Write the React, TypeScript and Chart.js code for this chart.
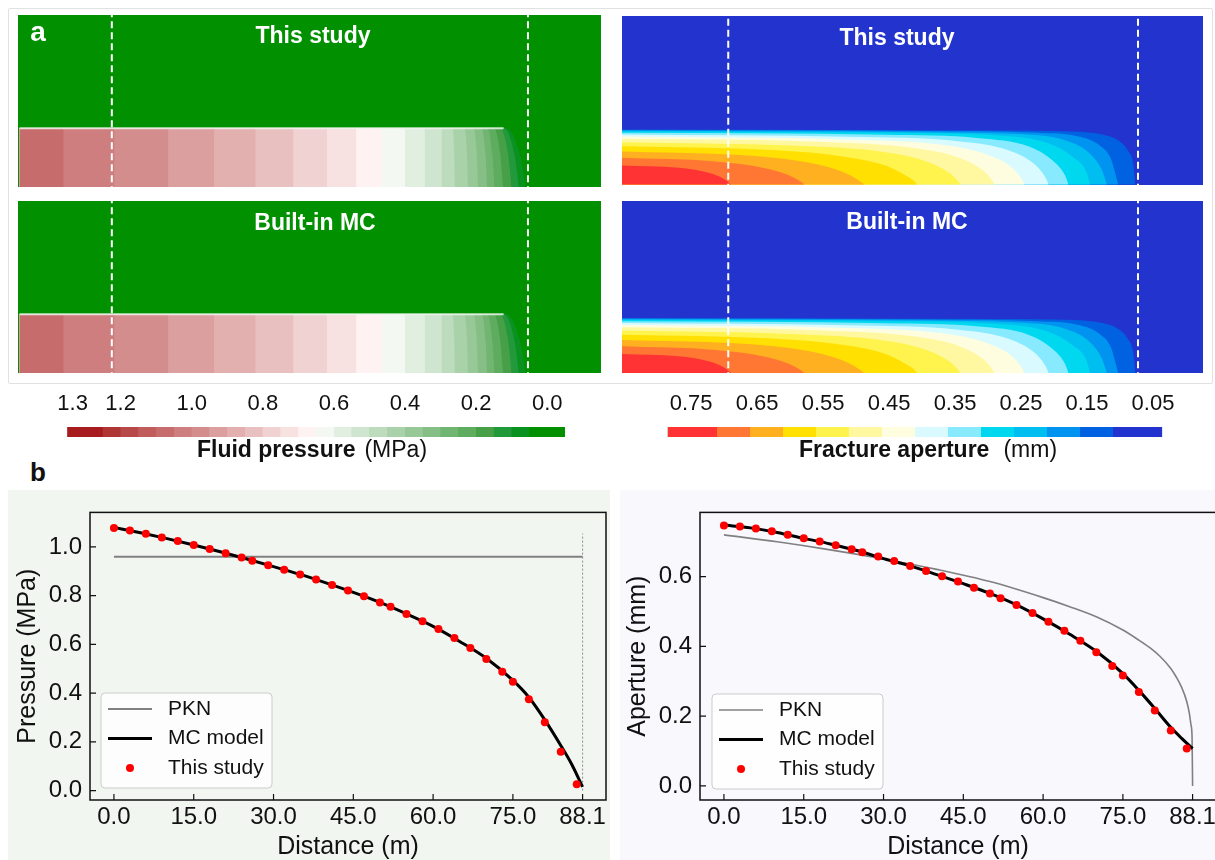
import React, { useEffect, useRef } from "react";
import { Chart, registerables } from "chart.js";

Chart.register(...registerables);

const FONT = "'Liberation Sans', Arial, Helvetica, sans-serif";
Chart.defaults.font.family = FONT;
Chart.defaults.color = "#111111";

/* ---------------- panel (a): colour scales ---------------- */
const pressureColors = [
  "#a61c1f", "#b03535", "#b84949", "#c05c5c", "#c76c6c", "#ce7e7e", "#d48d8d",
  "#dc9f9f", "#e3b0b0", "#e9c0c0", "#f1d2d2", "#f7e1e1", "#fff2f2", "#f3f8f3",
  "#e1efe1", "#cfe5cf", "#bddbbd", "#aad2aa", "#98c898", "#86bf86", "#72b572",
  "#5eac5e", "#47a047", "#22993a", "#0a9220", "#009000",
];
const pressureEdges = [
  1.35, 1.25, 1.2, 1.15, 1.1, 1.05, 1.0, 0.95, 0.9, 0.85, 0.8, 0.75, 0.7, 0.65,
  0.6, 0.55, 0.5, 0.45, 0.4, 0.35, 0.3, 0.25, 0.2, 0.15, 0.1, 0.05, -0.05,
];
const pressureTickValues = [1.335, 1.2, 1.0, 0.8, 0.6, 0.4, 0.2, 0.0];

const apertureColors = [
  "#ff3333", "#ff7733", "#ffb020", "#ffe000", "#fff34d", "#fff8a0", "#fffde0",
  "#d9fbff", "#88eaff", "#00d8f0", "#00bff0", "#0094f0", "#0062e0", "#2234cd",
];
const apertureEdges = [0.775, 0.7, 0.65, 0.6, 0.55, 0.5, 0.45, 0.4, 0.35, 0.3, 0.25, 0.2, 0.15, 0.1, 0.025];
const apertureTickValues = [0.75, 0.65, 0.55, 0.45, 0.35, 0.25, 0.15, 0.05];

/* ---------------- panel (a): fields (distance / height in m) ---------------- */
const pressureStripeEnds = [7.8, 16.8, 26.3, 34.4, 41.7, 48.4, 54.3, 59.5, 64.0, 68.1, 71.6, 74.6, 76.9, 79.2, 81.0, 82.6, 83.9, 85.4, 86.9, 88.2, 89.4];
const pressureStripeSlant = [0, 0, 0, 0, 0, 0, 0, 0, 0, 0, 0, 0, 0.4, 0.6, 0.8, 1.0, 1.3, 1.6, 2.0, 2.6, 3.4];
const pressureStripeFirstLevel = 4;
const pressureBandHeight = 10.4;
const pressureDashes = [16.3, 89.8];
const apertureDashes = [18.8, 91.3];

// contour lines of aperture, innermost (0.70 mm) to outermost (0.10 mm): [distance, height]
const apertureContours = [
  [[0, 3.36], [10.0, 2.95], [15.3, 2.06], [18.0, 1.0], [19.3, 0]],
  [[0, 4.72], [16.6, 4.07], [25.3, 2.89], [29.3, 1.71], [31.6, 0.53], [32.3, 0]],
  [[0, 5.84], [20.0, 5.25], [31.9, 4.07], [37.9, 2.65], [41.3, 1.12], [42.9, 0]],
  [[0, 6.78], [26.6, 6.08], [39.9, 4.84], [46.6, 3.36], [50.2, 1.59], [51.9, 0.41], [52.2, 0]],
  [[0, 7.49], [29.9, 6.9], [46.6, 5.72], [53.9, 4.07], [57.9, 2.06], [59.5, 0.53], [59.9, 0]],
  [[0, 8.08], [33.3, 7.61], [51.9, 6.43], [59.9, 4.66], [63.9, 2.48], [65.5, 0.71], [65.9, 0]],
  [[0, 8.5], [39.9, 7.96], [56.6, 7.02], [64.5, 5.31], [68.9, 3.07], [70.7, 1.0], [71.2, 0]],
  [[0, 8.85], [39.9, 8.44], [59.9, 7.61], [68.5, 6.02], [72.9, 3.66], [74.9, 1.3], [75.5, 0]],
  [[0, 9.14], [46.6, 8.79], [63.2, 8.2], [71.9, 6.78], [76.2, 4.25], [78.4, 1.59], [79.0, 0]],
  [[0, 9.38], [46.6, 9.14], [66.5, 8.67], [75.2, 7.37], [79.8, 4.84], [82.2, 2.18], [82.8, 0]],
  [[0, 9.5], [53.2, 9.26], [69.9, 8.91], [78.5, 7.79], [82.5, 5.72], [84.8, 2.77], [85.8, 0]],
  [[0, 9.62], [53.2, 9.44], [73.2, 9.14], [81.2, 8.38], [84.5, 6.9], [86.5, 4.54], [87.8, 0]],
  [[0, 9.73], [39.9, 9.62], [66.5, 9.56], [79.8, 9.38], [85.2, 8.79], [87.8, 7.79], [89.5, 6.02], [90.5, 3.36], [90.8, 0]],
];

/* ---------------- panel (b) ---------------- */
const distanceTicks = [0, 15, 30, 45, 60, 75, 88.1];
const pressureTicks = [0, 0.2, 0.4, 0.6, 0.8, 1.0];
const apertureTicks = [0, 0.2, 0.4, 0.6];

const studyDistance = [0, 3, 6, 9, 12, 15, 18, 21, 24, 26, 29, 32, 35, 38, 41, 44, 47, 50, 52, 55, 58, 61, 64, 67, 70, 73, 75, 78, 81, 84, 87];
const studyPressure = [1.077, 1.067, 1.054, 1.039, 1.024, 1.008, 0.991, 0.974, 0.956, 0.943, 0.925, 0.906, 0.887, 0.866, 0.844, 0.821, 0.797, 0.772, 0.754, 0.725, 0.695, 0.663, 0.626, 0.585, 0.54, 0.488, 0.447, 0.375, 0.28, 0.159, 0.026];
const studyAperture = [0.747, 0.744, 0.738, 0.73, 0.72, 0.71, 0.701, 0.69, 0.679, 0.67, 0.658, 0.645, 0.631, 0.616, 0.601, 0.586, 0.568, 0.552, 0.538, 0.519, 0.496, 0.471, 0.445, 0.416, 0.383, 0.344, 0.317, 0.269, 0.216, 0.159, 0.107];

const modelDistance = [0, 5, 10, 15, 20, 25, 30, 35, 40, 45, 50, 55, 60, 65, 70, 75, 78, 81, 84, 86, 88.1];
const modelPressure = [1.08, 1.058, 1.034, 1.008, 0.98, 0.95, 0.919, 0.887, 0.851, 0.813, 0.772, 0.725, 0.674, 0.612, 0.543, 0.452, 0.383, 0.29, 0.185, 0.11, 0.015];
const modelAperture = [0.748, 0.74, 0.727, 0.71, 0.694, 0.675, 0.652, 0.631, 0.606, 0.58, 0.552, 0.519, 0.479, 0.435, 0.386, 0.322, 0.274, 0.222, 0.168, 0.137, 0.107];

const pknPressureDistance = [0, 88.1];
const pknPressure = [0.96, 0.96];
const pknApertureDistance = [0, 10, 20, 30, 40, 50, 60, 65, 70, 75, 78, 80, 82, 84, 85, 86, 87, 87.5, 87.8, 88, 88.1];
const pknAperture = [0.72, 0.7, 0.677, 0.651, 0.621, 0.586, 0.54, 0.514, 0.485, 0.447, 0.418, 0.397, 0.371, 0.337, 0.313, 0.284, 0.242, 0.207, 0.175, 0.14, 0.0];
const tipMarkerDistance = [88.1, 88.1];
const tipMarkerPressure = [0, 1.055];

/* ---------------- helpers ---------------- */
const pts = (xs: number[], ys: number[]) => xs.map((x, i) => ({ x, y: ys[i] }));

const baseOptions: any = {
  animation: false,
  responsive: false,
  events: [],
  plugins: { legend: { display: false }, tooltip: { enabled: false } },
};

const bgPlugin = (outer: string, inner?: string) => ({
  id: "bg",
  beforeDraw(chart: any) {
    const { ctx, width, height, chartArea: a } = chart;
    ctx.save();
    ctx.fillStyle = outer;
    ctx.fillRect(0, 0, width, height);
    if (inner) {
      ctx.fillStyle = inner;
      ctx.fillRect(a.left, a.top, a.right - a.left, a.bottom - a.top);
    }
    ctx.restore();
  },
});

const framePlugin = {
  id: "frame",
  afterDatasetsDraw(chart: any) {
    const { ctx, chartArea: a, scales } = chart;
    ctx.save();
    ctx.strokeStyle = "#111111";
    ctx.lineWidth = 1.5;
    ctx.strokeRect(a.left, a.top, a.right - a.left, a.bottom - a.top);
    ctx.lineWidth = 1.2;
    ctx.beginPath();
    scales.x.ticks.forEach((t: any) => {
      const p = scales.x.getPixelForValue(t.value);
      ctx.moveTo(p, a.bottom);
      ctx.lineTo(p, a.bottom - 6);
    });
    scales.y.ticks.forEach((t: any) => {
      const p = scales.y.getPixelForValue(t.value);
      ctx.moveTo(a.left, p);
      ctx.lineTo(a.left + 6, p);
    });
    ctx.stroke();
    ctx.restore();
  },
};

const legendPlugin = (dx: number, dy: number) => ({
  id: "boxLegend",
  afterDraw(chart: any) {
    const { ctx, chartArea: a } = chart;
    const w = 171;
    const h = 95;
    const x0 = a.left + dx;
    const y0 = a.bottom - dy - h;
    ctx.save();
    ctx.beginPath();
    ctx.roundRect(x0, y0, w, h, 4);
    ctx.fillStyle = "rgba(255,255,255,0.8)";
    ctx.fill();
    ctx.strokeStyle = "#cccccc";
    ctx.lineWidth = 1;
    ctx.stroke();
    const items = chart.data.datasets.filter((d: any) => d.label);
    items.forEach((d: any, i: number) => {
      const cy = y0 + 16 + i * 29.5;
      if (d.showLine === false) {
        ctx.beginPath();
        ctx.arc(x0 + 29, cy, d.pointRadius, 0, Math.PI * 2);
        ctx.fillStyle = d.pointBackgroundColor;
        ctx.fill();
      } else {
        ctx.beginPath();
        ctx.moveTo(x0 + 7, cy);
        ctx.lineTo(x0 + 51, cy);
        ctx.strokeStyle = d.borderColor;
        ctx.lineWidth = d.borderWidth;
        ctx.stroke();
      }
      ctx.fillStyle = "#111111";
      ctx.font = `21px ${FONT}`;
      ctx.textBaseline = "middle";
      ctx.textAlign = "left";
      ctx.fillText(d.label, x0 + 67, cy);
    });
    ctx.restore();
  },
});

const dashedLines = (xs: number[], ymax: number) =>
  xs.map((x) => ({
    data: [{ x, y: -5 }, { x, y: ymax + 5 }],
    borderColor: "#ffffff",
    borderWidth: 2,
    borderDash: [7, 4],
    pointRadius: 0,
    fill: false,
  }));

const hiddenAxes = (xmin: number, xmax: number, ymin: number, ymax: number) => ({
  x: { type: "linear", display: false, min: xmin, max: xmax },
  y: { type: "linear", display: false, min: ymin, max: ymax },
});

/* ---------------- configs ---------------- */
function pressureFieldConfig(ymax: number) {
  const H = pressureBandHeight;
  const stripes = pressureStripeEnds.map((end, i) => {
    const s = pressureStripeSlant[i];
    const data =
      s > 0
        ? [{ x: 0, y: H }, { x: end - s, y: H }, { x: end - 0.3 * s, y: 0.55 * H }, { x: end, y: 0 }]
        : [{ x: 0, y: H }, { x: end, y: H }, { x: end, y: 0 }];
    return {
      data,
      backgroundColor: pressureColors[pressureStripeFirstLevel + i],
      borderColor: "rgba(0,0,0,0)",
      borderWidth: 0,
      pointRadius: 0,
      fill: "origin",
      cubicInterpolationMode: s > 0 ? "monotone" : "default",
      tension: 0,
    };
  });
  const highlight = {
    data: [{ x: 0, y: H }, { x: 85.5, y: H }],
    borderColor: "rgba(236,246,236,0.85)",
    borderWidth: 2,
    pointRadius: 0,
    fill: false,
  };
  return {
    type: "line",
    data: { datasets: [...dashedLines(pressureDashes, ymax), highlight, ...stripes] },
    options: { ...baseOptions, layout: { padding: 0 }, scales: hiddenAxes(-0.27, 102.7, 0, ymax) },
    plugins: [bgPlugin(pressureColors[pressureColors.length - 1])],
  };
}

function apertureFieldConfig(ymin: number, ymax: number) {
  const contours = apertureContours.map((c, i) => ({
    data: c.map(([x, y]) => ({ x, y })),
    backgroundColor: apertureColors[i],
    borderColor: "rgba(0,0,0,0)",
    borderWidth: 0,
    pointRadius: 0,
    fill: "origin",
    cubicInterpolationMode: "monotone",
  }));
  return {
    type: "line",
    data: { datasets: [...dashedLines(apertureDashes, ymax), ...contours] },
    options: { ...baseOptions, layout: { padding: 0 }, scales: hiddenAxes(0, 102.8, ymin, ymax) },
    plugins: [bgPlugin(apertureColors[apertureColors.length - 1])],
  };
}

function colorbarConfig(colors: string[], edges: number[], ticks: number[], decimals: number, labelOffset: number, padL: number, padR: number) {
  const start = edges[0];
  const datasets = colors.map((c, i) => ({
    data: [{ x: edges[i + 1], y: 1 }, { x: start, y: 1 }],
    backgroundColor: c,
    borderColor: "rgba(0,0,0,0)",
    borderWidth: 0,
    pointRadius: 0,
    fill: "origin",
  }));
  return {
    type: "line",
    data: { datasets },
    options: {
      ...baseOptions,
      layout: { padding: { left: padL, right: padR, top: 0, bottom: 3 } },
      scales: {
        x: {
          type: "linear",
          position: "top",
          reverse: true,
          min: edges[edges.length - 1],
          max: start,
          afterFit: (s: any) => { s.height = 47; },
          afterBuildTicks: (s: any) => { s.ticks = ticks.map((v) => ({ value: v })); },
          grid: { display: false, drawTicks: false },
          border: { display: false },
          ticks: {
            font: { size: 22 },
            color: "#111111",
            padding: 10,
            labelOffset,
            maxRotation: 0,
            autoSkip: false,
            callback: (v: any) => Number(v).toFixed(decimals),
          },
        },
        y: { type: "linear", display: false, min: 0, max: 1 },
      },
    },
  };
}

function lineChartConfig(opts: any) {
  const datasets: any[] = [
      {
        label: "PKN",
        data: opts.pkn,
        borderColor: "#808080",
        borderWidth: opts.pknWidth,
        pointRadius: 0,
        cubicInterpolationMode: "monotone",
        fill: false,
        order: 2,
      },
      {
        label: "MC model",
        data: opts.model,
        borderColor: "#000000",
        borderWidth: 3,
        pointRadius: 0,
        cubicInterpolationMode: "monotone",
        fill: false,
        order: 1,
      },
      {
        label: "This study",
        data: opts.study,
        showLine: false,
        pointRadius: 4,
        pointBackgroundColor: "#ff0000",
        pointBorderWidth: 0,
        borderColor: "#ff0000",
        order: 0,
      },
      ...(opts.extra || []),
  ];
  return {
    type: "line",
    data: { datasets },
    options: {
      ...baseOptions,
      layout: { padding: { left: 0, right: opts.padR, top: 4, bottom: 0 } },
      scales: {
        x: {
          type: "linear",
          min: -4.5,
          max: 92.5,
          afterFit: (s: any) => { s.height = 70; },
          afterBuildTicks: (s: any) => { s.ticks = distanceTicks.map((v) => ({ value: v })); },
          grid: { display: false, drawTicks: false },
          border: { display: false },
          ticks: {
            font: { size: 24 },
            color: "#111111",
            padding: 3,
            maxRotation: 0,
            autoSkip: false,
            callback: (v: any) => Number(v).toFixed(1),
          },
          title: { display: true, text: "Distance (m)", font: { size: 25 }, color: "#111111", padding: { top: 0, bottom: 8 } },
        },
        y: {
          type: "linear",
          min: opts.ymin,
          max: opts.ymax,
          afterFit: (s: any) => { s.width = opts.yWidth; },
          afterBuildTicks: (s: any) => { s.ticks = opts.yTicks.map((v: number) => ({ value: v })); },
          grid: { display: false, drawTicks: false },
          border: { display: false },
          ticks: {
            font: { size: 24 },
            color: "#111111",
            padding: 8,
            callback: (v: any) => Number(v).toFixed(1),
          },
          title: { display: true, text: opts.yTitle, font: { size: 25 }, color: "#111111", padding: { top: opts.yTitlePad, bottom: 0 } },
        },
      },
    },
    plugins: [bgPlugin(opts.bg, opts.bg), framePlugin, legendPlugin(opts.legendDx, opts.legendDy)],
  };
}

/* ---------------- components ---------------- */
function ChartCanvas({ left, top, width, height, make }: any) {
  const ref = useRef<HTMLCanvasElement>(null);
  useEffect(() => {
    const chart = new Chart(ref.current as HTMLCanvasElement, make());
    return () => chart.destroy();
  }, []);
  return (
    <canvas
      ref={ref}
      width={width}
      height={height}
      style={{ position: "absolute", left, top, width, height, display: "block" }}
    />
  );
}

function Txt({ x, y, size, bold, color = "#111111", children }: any) {
  return (
    <div
      style={{
        position: "absolute",
        left: x,
        top: y,
        transform: "translate(-50%, -50%)",
        fontSize: size,
        fontWeight: bold ? 700 : 400,
        color,
        lineHeight: 1,
        whiteSpace: "nowrap",
        fontFamily: FONT,
      }}
    >
      {children}
    </div>
  );
}

export default function App() {
  return (
    <div
      style={{
        position: "absolute",
        left: 0,
        top: 0,
        width: 1215,
        height: 860,
        overflow: "hidden",
        background: "#ffffff",
        fontFamily: FONT,
      }}
    >
      <div style={{ position: "absolute", left: 8, top: 8, width: 1203, height: 374, border: "1px solid #e2e2e2", borderRadius: 2 }} />

      <ChartCanvas left={18} top={15} width={583} height={172} make={() => pressureFieldConfig(30.4)} />
      <ChartCanvas left={18} top={201} width={583} height={172} make={() => pressureFieldConfig(30.4)} />
      <ChartCanvas left={622} top={16} width={581} height={169} make={() => apertureFieldConfig(-0.09, 29.8)} />
      <ChartCanvas left={622} top={201} width={581} height={172} make={() => apertureFieldConfig(0, 30.4)} />

      <Txt x={38} y={32} size={28} bold color="#ffffff">a</Txt>
      <Txt x={313} y={35} size={23} bold color="#ffffff">This study</Txt>
      <Txt x={315} y={222} size={23} bold color="#ffffff">Built-in MC</Txt>
      <Txt x={897} y={37} size={23} bold color="#ffffff">This study</Txt>
      <Txt x={907} y={221} size={23} bold color="#ffffff">Built-in MC</Txt>

      <ChartCanvas
        left={40}
        top={380}
        width={550}
        height={60}
        make={() => colorbarConfig(pressureColors, pressureEdges, pressureTickValues, 1, 0, 27.3, 25)}
      />
      <ChartCanvas
        left={640}
        top={380}
        width={550}
        height={60}
        make={() => colorbarConfig(apertureColors, apertureEdges, apertureTickValues, 2, 7, 27.6, 27.5)}
      />
      <Txt x={312} y={449} size={23}>
        <b>Fluid pressure</b>
        <span style={{ marginLeft: 9 }}>(MPa)</span>
      </Txt>
      <Txt x={928} y={449} size={23}>
        <b>Fracture aperture</b>
        <span style={{ marginLeft: 14 }}>(mm)</span>
      </Txt>

      <Txt x={38} y={472} size={26} bold>b</Txt>

      <ChartCanvas
        left={8}
        top={490}
        width={602}
        height={380}
        make={() =>
          lineChartConfig({
            pkn: pts(pknPressureDistance, pknPressure),
            pknWidth: 2,
            model: pts(modelDistance, modelPressure),
            study: pts(studyDistance, studyPressure),
            extra: [
              {
                data: pts(tipMarkerDistance, tipMarkerPressure),
                borderColor: "#8a8a8a",
                borderWidth: 1,
                borderDash: [2, 2],
                pointRadius: 0,
                fill: false,
                order: 3,
              },
            ],
            ymin: -0.0386,
            ymax: 1.1415,
            yTicks: pressureTicks,
            yTitle: "Pressure (MPa)",
            yWidth: 82,
            yTitlePad: 5,
            padR: 4,
            bg: "#f1f6f1",
            legendDx: 11,
            legendDy: 12,
          })
        }
      />
      <ChartCanvas
        left={620}
        top={490}
        width={605}
        height={380}
        make={() =>
          lineChartConfig({
            pkn: pts(pknApertureDistance, pknAperture),
            pknWidth: 1.6,
            model: pts(modelDistance, modelAperture),
            study: pts(studyDistance, studyAperture),
            ymin: -0.0404,
            ymax: 0.7844,
            yTicks: apertureTicks,
            yTitle: "Aperture (mm)",
            yWidth: 80,
            yTitlePad: 3,
            padR: 9,
            bg: "#f8f8fd",
            legendDx: 12,
            legendDy: 11,
          })
        }
      />
    </div>
  );
}
